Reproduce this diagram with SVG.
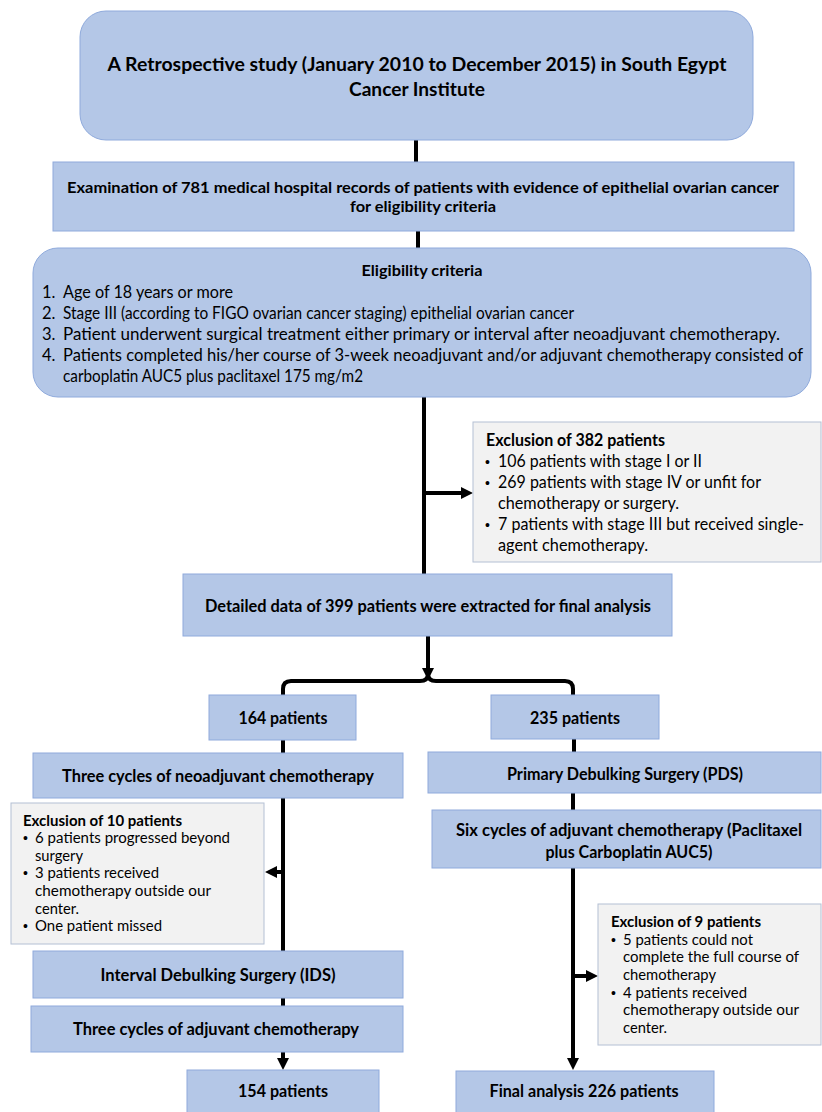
<svg xmlns="http://www.w3.org/2000/svg" width="822" height="1112" viewBox="0 0 822 1112">
<style>
  text { font-family: Lato, "Open Sans", "Liberation Sans", sans-serif; fill: #000; }
  .box { fill: #b4c7e7; stroke: #8faadc; stroke-width: 1; }
  .exc { fill: #f2f2f2; stroke: #b4c0d4; stroke-width: 1; }
  .b { font-weight: bold; }
  .t18 { font-size: 18px; }
  .t17 { font-size: 16.5px; }
  .t15 { font-size: 15px; }
  .t16 { font-size: 16px; }
  .t14 { font-size: 14.5px; }
  .bl { font-size: 14px; font-family: "Liberation Sans", sans-serif; }
  .c { text-anchor: middle; }
  .ln { stroke: #000; stroke-width: 4; fill: none; }
</style>
<defs>
  <marker id="ah" viewBox="0 0 10 10" refX="0" refY="5" markerWidth="12" markerHeight="12" markerUnits="userSpaceOnUse" orient="auto">
    <path d="M0,0 L10,5 L0,10 z" fill="#000"/>
  </marker>
</defs>
<rect width="822" height="1112" fill="#fff"/>

<g id="connectors">
  <path class="ln" d="M416,140 V162"/>
  <path class="ln" d="M418,231 V248"/>
  <path class="ln" d="M424,397 V574"/>
  <path class="ln" d="M424,493 H461" marker-end="url(#ah)"/>
  <path class="ln" d="M428,636 V668" marker-end="url(#ah)"/>
  <path class="ln" d="M283,695 V689 Q283,681 291,681 H420 Q428,681 428,674 Q428,681 436,681 H565 Q573,681 573,689 V695"/>
  <path class="ln" d="M283,740 V753"/>
  <path class="ln" d="M574,739 V752"/>
  <path class="ln" d="M283,798 V951"/>
  <path class="ln" d="M283,872 H277" marker-end="url(#ah)"/>
  <path class="ln" d="M573,793 V810"/>
  <path class="ln" d="M573,868 V1058" marker-end="url(#ah)"/>
  <path class="ln" d="M573,976 H586" marker-end="url(#ah)"/>
  <path class="ln" d="M283,998 V1006"/>
  <path class="ln" d="M283,1052 V1058" marker-end="url(#ah)"/>
</g>

<g id="n-study">
  <rect class="box" x="80" y="11" width="673" height="129" rx="26"/>
  <text class="b t18 c" x="417" y="71" textLength="619" lengthAdjust="spacingAndGlyphs">A Retrospective study (January 2010 to December 2015) in South Egypt</text>
  <text class="b t18 c" x="417" y="96" textLength="136" lengthAdjust="spacingAndGlyphs">Cancer Institute</text>
</g>

<g id="n-exam">
  <rect class="box" x="53" y="162" width="741" height="69"/>
  <text class="b t16 c" x="423" y="193" textLength="712" lengthAdjust="spacingAndGlyphs">Examination of 781 medical hospital records of patients with evidence of epithelial ovarian cancer</text>
  <text class="b t16 c" x="423" y="212" textLength="146" lengthAdjust="spacingAndGlyphs">for eligibility criteria</text>
</g>

<g id="n-elig">
  <rect class="box" x="33" y="248" width="778" height="149" rx="25"/>
  <text class="b t16 c" x="422" y="276" textLength="121" lengthAdjust="spacingAndGlyphs">Eligibility criteria</text>
  <text class="t17" x="42" y="298">1.</text>
  <text class="t17" x="63" y="298" textLength="170" lengthAdjust="spacingAndGlyphs">Age of 18 years or more</text>
  <text class="t17" x="42" y="319">2.</text>
  <text class="t17" x="63" y="319" textLength="511" lengthAdjust="spacingAndGlyphs">Stage III (according to FIGO ovarian cancer staging) epithelial ovarian cancer</text>
  <text class="t17" x="42" y="340">3.</text>
  <text class="t17" x="63" y="340" textLength="717" lengthAdjust="spacingAndGlyphs">Patient underwent surgical treatment either primary or interval after neoadjuvant chemotherapy.</text>
  <text class="t17" x="42" y="361">4.</text>
  <text class="t17" x="63" y="361" textLength="740" lengthAdjust="spacingAndGlyphs">Patients completed his/her course of  3-week neoadjuvant and/or adjuvant chemotherapy consisted of</text>
  <text class="t17" x="63" y="382" textLength="300" lengthAdjust="spacingAndGlyphs">carboplatin AUC5 plus paclitaxel 175 mg/m2</text>
</g>

<g id="n-excl382">
  <rect class="exc" x="473" y="422" width="348" height="140"/>
  <text class="b t17" x="486" y="446" textLength="179" lengthAdjust="spacingAndGlyphs">Exclusion of 382 patients</text>
  <text class="bl" x="485" y="467">•</text>
  <text class="t17" x="498" y="467" textLength="204" lengthAdjust="spacingAndGlyphs">106 patients with stage I or II</text>
  <text class="bl" x="485" y="488">•</text>
  <text class="t17" x="498" y="488" textLength="263" lengthAdjust="spacingAndGlyphs">269 patients with stage IV or unfit for</text>
  <text class="t17" x="498" y="509" textLength="181" lengthAdjust="spacingAndGlyphs">chemotherapy or surgery.</text>
  <text class="bl" x="485" y="530">•</text>
  <text class="t17" x="498" y="530" textLength="306" lengthAdjust="spacingAndGlyphs">7 patients with stage III but received single-</text>
  <text class="t17" x="498" y="551" textLength="150" lengthAdjust="spacingAndGlyphs">agent chemotherapy.</text>
</g>

<g id="n-detailed">
  <rect class="box" x="183" y="574" width="489" height="62"/>
  <text class="b t17 c" x="428" y="612" textLength="446" lengthAdjust="spacingAndGlyphs">Detailed data of 399 patients were extracted for final analysis</text>
</g>

<g id="n-164">
  <rect class="box" x="209" y="695" width="147" height="45"/>
  <text class="b t17 c" x="283" y="724" textLength="89" lengthAdjust="spacingAndGlyphs">164 patients</text>
</g>

<g id="n-235">
  <rect class="box" x="491" y="695" width="168" height="44"/>
  <text class="b t17 c" x="575" y="724" textLength="90" lengthAdjust="spacingAndGlyphs">235 patients</text>
</g>

<g id="n-neoadj">
  <rect class="box" x="33" y="753" width="370" height="45"/>
  <text class="b t17 c" x="218" y="782" textLength="312" lengthAdjust="spacingAndGlyphs">Three cycles of neoadjuvant chemotherapy</text>
</g>

<g id="n-excl10">
  <rect class="exc" x="11" y="803" width="253" height="141"/>
  <text class="b t14" x="23" y="826" textLength="159" lengthAdjust="spacingAndGlyphs">Exclusion of 10 patients</text>
  <text class="bl" x="23" y="843">•</text>
  <text class="t14" x="35" y="843" textLength="195" lengthAdjust="spacingAndGlyphs">6 patients progressed beyond</text>
  <text class="t14" x="35" y="861" textLength="48" lengthAdjust="spacingAndGlyphs">surgery</text>
  <text class="bl" x="23" y="878">•</text>
  <text class="t14" x="35" y="878" textLength="124" lengthAdjust="spacingAndGlyphs">3 patients received</text>
  <text class="t14" x="35" y="896" textLength="176" lengthAdjust="spacingAndGlyphs">chemotherapy outside our</text>
  <text class="t14" x="35" y="914" textLength="44" lengthAdjust="spacingAndGlyphs">center.</text>
  <text class="bl" x="23" y="931">•</text>
  <text class="t14" x="35" y="931" textLength="127" lengthAdjust="spacingAndGlyphs">One patient missed</text>
</g>

<g id="n-ids">
  <rect class="box" x="33" y="951" width="370" height="47"/>
  <text class="b t17 c" x="218" y="981" textLength="235" lengthAdjust="spacingAndGlyphs">Interval Debulking Surgery  (IDS)</text>
</g>

<g id="n-adj3">
  <rect class="box" x="31" y="1006" width="372" height="46"/>
  <text class="b t17 c" x="216" y="1035" textLength="286" lengthAdjust="spacingAndGlyphs">Three cycles of adjuvant chemotherapy</text>
</g>

<g id="n-154">
  <rect class="box" x="187" y="1070" width="192" height="44"/>
  <text class="b t17 c" x="283" y="1097" textLength="90" lengthAdjust="spacingAndGlyphs">154 patients</text>
</g>

<g id="n-pds">
  <rect class="box" x="428" y="752" width="393" height="41"/>
  <text class="b t17 c" x="625" y="780" textLength="236" lengthAdjust="spacingAndGlyphs">Primary Debulking Surgery (PDS)</text>
</g>

<g id="n-adj6">
  <rect class="box" x="432" y="810" width="389" height="58"/>
  <text class="b t17 c" x="629" y="836" textLength="346" lengthAdjust="spacingAndGlyphs">Six cycles of adjuvant chemotherapy  (Paclitaxel</text>
  <text class="b t17 c" x="629" y="858" textLength="167" lengthAdjust="spacingAndGlyphs">plus Carboplatin AUC5)</text>
</g>

<g id="n-excl9">
  <rect class="exc" x="598" y="904" width="223" height="141"/>
  <text class="b t14" x="611" y="927" textLength="150" lengthAdjust="spacingAndGlyphs">Exclusion of 9 patients</text>
  <text class="bl" x="611" y="945">•</text>
  <text class="t14" x="623" y="945" textLength="130" lengthAdjust="spacingAndGlyphs">5 patients could not</text>
  <text class="t14" x="623" y="962" textLength="176" lengthAdjust="spacingAndGlyphs">complete the full course of</text>
  <text class="t14" x="623" y="980" textLength="93" lengthAdjust="spacingAndGlyphs">chemotherapy</text>
  <text class="bl" x="611" y="998">•</text>
  <text class="t14" x="623" y="998" textLength="124" lengthAdjust="spacingAndGlyphs">4 patients received</text>
  <text class="t14" x="623" y="1015" textLength="176" lengthAdjust="spacingAndGlyphs">chemotherapy outside our</text>
  <text class="t14" x="623" y="1033" textLength="44" lengthAdjust="spacingAndGlyphs">center.</text>
</g>

<g id="n-final">
  <rect class="box" x="456" y="1071" width="258" height="43"/>
  <text class="b t17 c" x="584" y="1097" textLength="189" lengthAdjust="spacingAndGlyphs">Final analysis 226 patients</text>
</g>
</svg>
